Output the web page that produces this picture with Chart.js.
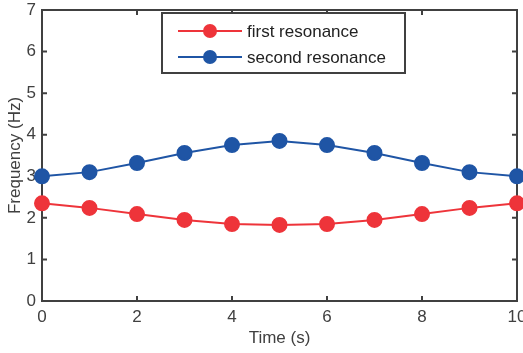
<!DOCTYPE html>
<html lang="en">
<head>
  <meta charset="UTF-8">
  <title>Resonance Frequencies over Time</title>
  <script src="https://cdn.jsdelivr.net/npm/chart.js"></script>
  <style>
    html, body { margin: 0; padding: 0; background: #fff; overflow: hidden; }
    #wrap { width: 523px; height: 353px; }
  </style>
</head>
<body>
  <div id="wrap"><canvas id="freqChart" width="523" height="353"></canvas></div>
  <script>
    const times = [0, 1, 2, 3, 4, 5, 6, 7, 8, 9, 10];
    const firstResonance = [2.35, 2.24, 2.09, 1.95, 1.85, 1.83, 1.85, 1.95, 2.09, 2.24, 2.35];
    const secondResonance = [3.0, 3.1, 3.32, 3.56, 3.75, 3.85, 3.75, 3.56, 3.32, 3.1, 3.0];
    const seriesNames = ['first resonance', 'second resonance'];
    const seriesColors = ['#ee343a', '#1f55a5'];

    const FONT = "'Liberation Sans', Arial, Helvetica, sans-serif";
    const INK = '#404040';

    // box around the plot with inward tick marks on all four sides
    const axisBox = {
      id: 'axisBox',
      beforeDatasetsDraw(chart) {
        const { ctx, chartArea: a, scales: { x, y } } = chart;
        ctx.save();
        ctx.strokeStyle = INK;
        ctx.lineWidth = 2;
        ctx.beginPath();
        x.ticks.forEach(t => {
          const px = x.getPixelForValue(t.value);
          ctx.moveTo(px, a.bottom); ctx.lineTo(px, a.bottom - 5);
          ctx.moveTo(px, a.top); ctx.lineTo(px, a.top + 5);
        });
        y.ticks.forEach(t => {
          const py = y.getPixelForValue(t.value);
          ctx.moveTo(a.left, py); ctx.lineTo(a.left + 5, py);
          ctx.moveTo(a.right, py); ctx.lineTo(a.right - 5, py);
        });
        ctx.stroke();
        ctx.strokeRect(a.left, a.top, a.right - a.left, a.bottom - a.top);
        ctx.restore();
      }
    };

    // boxed legend in the top middle of the plot
    const boxLegend = {
      id: 'boxLegend',
      afterDraw(chart) {
        const { ctx } = chart;
        const bx = 162, by = 13, bw = 243, bh = 60;
        ctx.save();
        ctx.fillStyle = '#fff';
        ctx.fillRect(bx, by, bw, bh);
        ctx.strokeStyle = INK;
        ctx.lineWidth = 2;
        ctx.strokeRect(bx, by, bw, bh);
        chart.data.datasets.forEach((ds, i) => {
          const cy = by + 18 + i * 26;
          ctx.strokeStyle = ds.borderColor;
          ctx.lineWidth = 2;
          ctx.beginPath();
          ctx.moveTo(bx + 16, cy); ctx.lineTo(bx + 80, cy);
          ctx.stroke();
          ctx.fillStyle = ds.borderColor;
          ctx.beginPath();
          ctx.arc(bx + 48, cy, 7, 0, Math.PI * 2);
          ctx.fill();
          ctx.fillStyle = '#222';
          ctx.font = '17px ' + FONT;
          ctx.textBaseline = 'middle';
          ctx.fillText(ds.label, bx + 85, cy + 1);
        });
        ctx.restore();
      }
    };

    const makeSeries = (label, values, color) => ({
      label,
      data: times.map((t, i) => ({ x: t, y: values[i] })),
      borderColor: color,
      backgroundColor: color,
      pointBackgroundColor: color,
      pointBorderColor: color,
      pointRadius: 7,
      borderWidth: 2,
      clip: false
    });

    new Chart(document.getElementById('freqChart'), {
      type: 'line',
      data: {
        datasets: [
          makeSeries(seriesNames[0], firstResonance, seriesColors[0]),
          makeSeries(seriesNames[1], secondResonance, seriesColors[1])
        ]
      },
      options: {
        responsive: false,
        animation: false,
        layout: { autoPadding: false, padding: { top: 10, right: 6, bottom: 0, left: 0 } },
        plugins: { legend: { display: false }, tooltip: { enabled: false } },
        scales: {
          x: {
            type: 'linear',
            min: 0, max: 10,
            ticks: { stepSize: 2, padding: 6, color: INK, font: { family: FONT, size: 17 } },
            grid: { display: false, drawTicks: false },
            border: { display: false },
            title: { display: true, text: 'Time (s)', color: INK, font: { family: FONT, size: 17 }, padding: { top: 0, bottom: 4 } },
            afterFit(s) { s.height = 52; s.paddingLeft = 0; s.paddingRight = 0; }
          },
          y: {
            min: 0, max: 7,
            ticks: { stepSize: 1, padding: 6, color: INK, font: { family: FONT, size: 17 } },
            grid: { display: false, drawTicks: false },
            border: { display: false },
            title: { display: true, text: 'Frequency (Hz)', color: INK, font: { family: FONT, size: 17 }, padding: { top: 5, bottom: 0 } },
            afterFit(s) { s.width = 42; s.paddingTop = 0; s.paddingBottom = 0; }
          }
        }
      },
      plugins: [axisBox, boxLegend]
    });
  </script>
</body>
</html>
